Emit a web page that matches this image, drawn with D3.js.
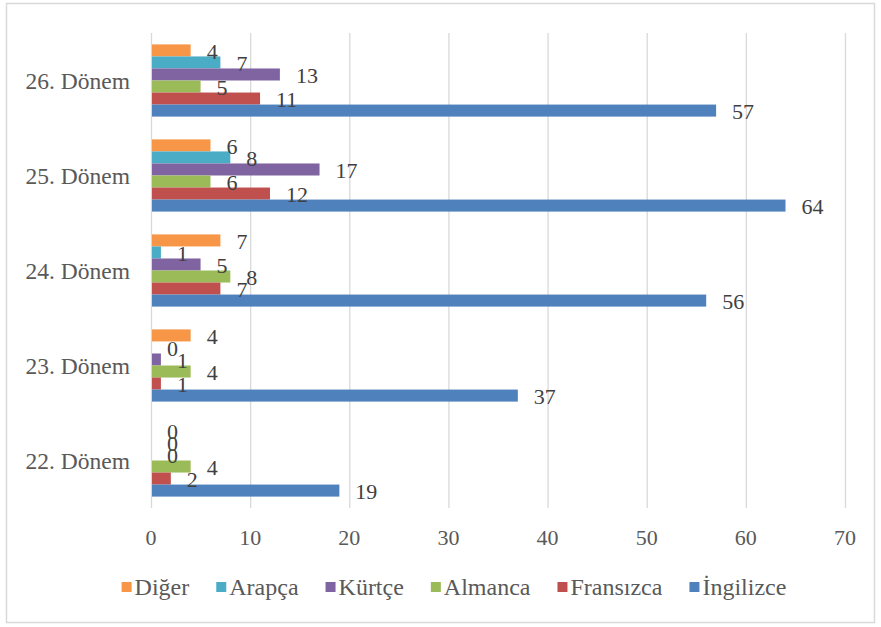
<!DOCTYPE html>
<html>
<head>
<meta charset="utf-8">
<script src="https://cdn.jsdelivr.net/npm/d3@7"></script>
<style>
  html, body { margin: 0; padding: 0; background: #fff; }
</style>
</head>
<body>
<div id="chart"></div>
<script>
// data
const periods = ['22. Dönem', '23. Dönem', '24. Dönem', '25. Dönem', '26. Dönem'];
const seriesNames = ['Diğer', 'Arapça', 'Kürtçe', 'Almanca', 'Fransızca', 'İngilizce'];
const seriesColors = ['#F79646', '#4BACC6', '#8064A2', '#9BBB59', '#C0504D', '#4F81BD'];

const ingilizce = [19, 37, 56, 64, 57];
const fransizca = [2, 1, 7, 12, 11];
const almanca   = [4, 4, 8, 6, 5];
const kurtce    = [0, 1, 5, 17, 13];
const arapca    = [0, 0, 1, 8, 7];
const diger     = [0, 4, 7, 6, 4];

const xTicks = [0, 10, 20, 30, 40, 50, 60, 70];

const seriesValues = [diger, arapca, kurtce, almanca, fransizca, ingilizce];
const FONT = "'Liberation Serif', 'Times New Roman', 'DejaVu Serif', serif";

// flat table for the marks
const rows = [];
periods.forEach((p, i) => {
  seriesNames.forEach((s, j) => {
    rows.push({ period: p, series: s, value: seriesValues[j][i], color: seriesColors[j] });
  });
});

const W = 881, H = 627;
const svg = d3.select('#chart').append('svg').attr('width', W).attr('height', H)
  .attr('font-family', FONT);

// chart frame
svg.append('rect').attr('x', 6.5).attr('y', 3.5).attr('width', 868).attr('height', 619)
  .attr('fill', '#fff').attr('stroke', '#d9d9d9').attr('stroke-width', 1.5);

const plot = { left: 151, right: 845, top: 33, bottom: 508 };

const x = d3.scaleLinear().domain([0, 70]).range([plot.left, plot.right]);
const y = d3.scaleBand().domain(periods.slice().reverse()).range([plot.top, plot.bottom])
  .paddingInner(0.24).paddingOuter(0.12);
const ySub = d3.scaleBand().domain(seriesNames).range([0, y.bandwidth()]);

// gridlines
svg.append('g').selectAll('line').data(xTicks).join('line')
  .attr('x1', d => x(d) + 0.5).attr('x2', d => x(d) + 0.5)
  .attr('y1', plot.top).attr('y2', plot.bottom)
  .attr('stroke', '#d9d9d9').attr('stroke-width', 1.3);

// x tick labels
svg.append('g').selectAll('text').data(xTicks).join('text')
  .attr('x', d => x(d)).attr('y', 537)
  .attr('text-anchor', 'middle').attr('dominant-baseline', 'central')
  .attr('font-family', FONT)
  .attr('fill', '#595959').style('font-size', '22px')
  .text(d => d);

// category labels
svg.append('g').selectAll('text').data(periods).join('text')
  .attr('x', 130).attr('y', d => y(d) + y.bandwidth() / 2)
  .attr('text-anchor', 'end').attr('dominant-baseline', 'central')
  .attr('font-family', FONT)
  .attr('fill', '#595959').style('font-size', '23.5px')
  .text(d => d);

// bars
svg.append('g').selectAll('rect').data(rows).join('rect')
  .attr('x', x(0) + 1)
  .attr('y', d => y(d.period) + ySub(d.series))
  .attr('width', d => Math.max(0, x(d.value) - x(0) - 1))
  .attr('height', ySub.bandwidth())
  .attr('fill', d => d.color);

// data labels (zeros stack on each other, as in the original)
svg.append('g').selectAll('text').data(rows).join('text')
  .attr('x', d => x(d.value) + 16)
  .attr('y', d => y(d.period) + ySub(d.series) + ySub.bandwidth() / 2 + 1)
  .attr('dominant-baseline', 'central')
  .attr('font-family', FONT)
  .attr('fill', '#404040').style('font-size', '22px')
  .text(d => d.value);

// legend
const legend = svg.append('g');
const items = legend.selectAll('g').data(seriesNames).join('g');
items.append('rect').attr('width', 10).attr('height', 10).attr('y', -5)
  .attr('fill', (d, i) => seriesColors[i]);
items.append('text').attr('x', 13).attr('dominant-baseline', 'central')
  .attr('font-family', FONT)
  .attr('fill', '#595959').style('font-size', '24px').text(d => d);

const GAP = 27;
let cx = 0;
const offsets = [];
items.each(function () {
  offsets.push(cx);
  const w = 13 + d3.select(this).select('text').node().getComputedTextLength();
  cx += w + GAP;
});
const total = cx - GAP;
const startX = 454 - total / 2;
items.attr('transform', (d, i) => `translate(${startX + offsets[i]},587)`);
</script>
</body>
</html>
